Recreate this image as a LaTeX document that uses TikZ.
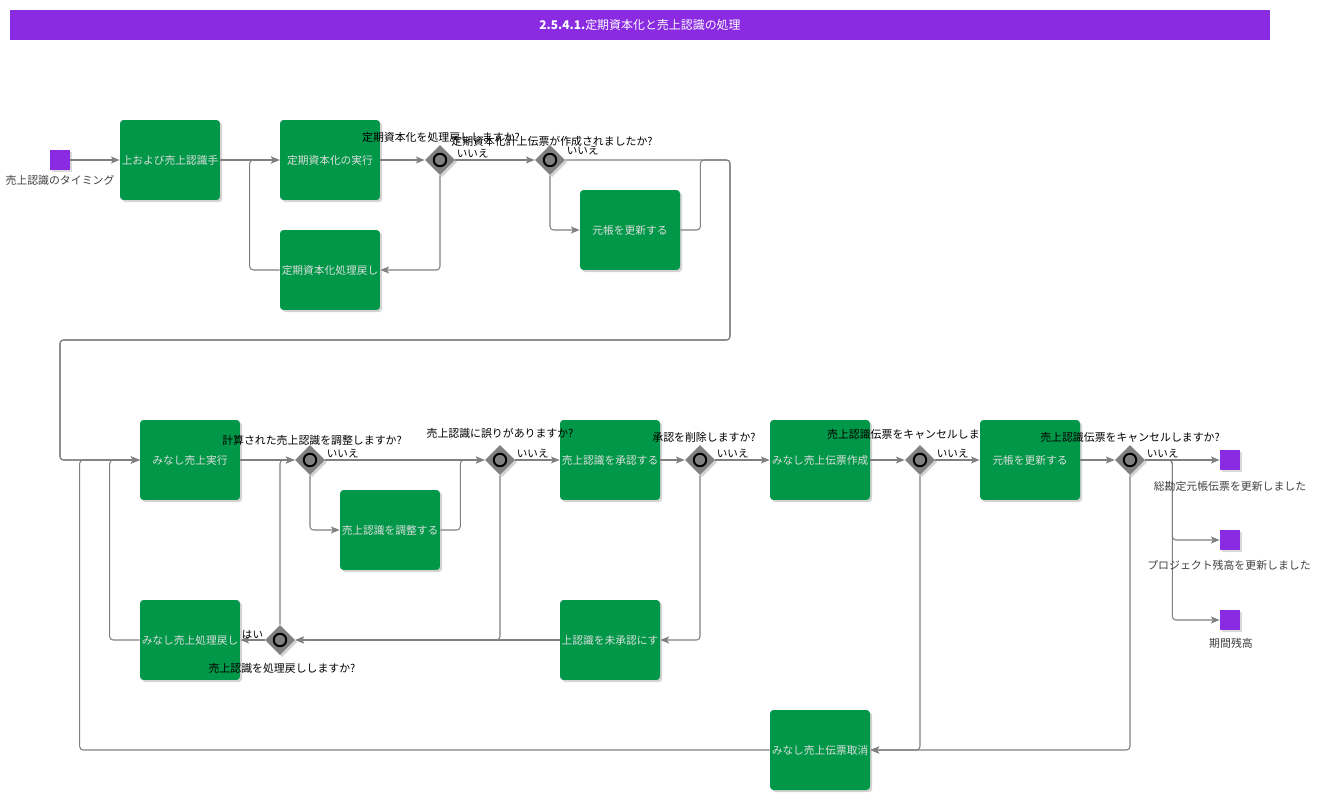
\documentclass[tikz,border=0pt]{standalone}
\usepackage{fontspec}
\setmainfont{Noto Sans CJK JP}
\usetikzlibrary{shapes.geometric, arrows.meta, shadows}
\definecolor{taskgreen}{RGB}{0,152,72}
\definecolor{evpurple}{RGB}{138,43,226}
\definecolor{flowgray}{RGB}{128,128,128}
\definecolor{tasktext}{RGB}{222,222,222}

\begin{document}
\begin{tikzpicture}[
        x=0.02cm, y=-0.02cm,
        task/.style={rectangle, rounded corners=2pt, fill=taskgreen, minimum width=2cm, minimum height=1.6cm, inner sep=0pt, text=tasktext, font=\fontsize{6.1}{7}\selectfont, drop shadow={shadow xshift=1.2pt, shadow yshift=-1.2pt, opacity=0.35}},
        gateway/.style={diamond, fill=flowgray, minimum width=0.6cm, minimum height=0.6cm, inner sep=0pt, drop shadow={shadow xshift=1.2pt, shadow yshift=-1.2pt, opacity=0.35},
            path picture={\draw[black, line width=1.1pt, fill=flowgray] (path picture bounding box.center) circle (0.125cm);}},
        event/.style={rectangle, fill=evpurple, minimum size=0.4cm, inner sep=0pt, drop shadow={shadow xshift=1pt, shadow yshift=-1pt, opacity=0.3}},
        titlebar/.style={rectangle, fill=evpurple, minimum width=25.2cm, minimum height=0.6cm, text=white, font=\fontsize{6.8}{8}\selectfont},
        flow/.style={draw=flowgray, line width=0.6pt, rounded corners=2pt, -{Stealth[length=5pt, width=4pt, inset=1.2pt]}},
        question/.style={inner sep=0pt, font=\fontsize{6.2}{7}\selectfont},
        evlabel/.style={inner sep=0pt, text=black!75, font=\fontsize{6.2}{7}\selectfont},
        answer/.style={inner sep=0.6pt, font=\fontsize{6}{7}\selectfont}
    ]
    \useasboundingbox (0,0) rectangle (1324,800);

    % タイトル
    \node[titlebar] at (640,25) (title) {\textbf{2.5.4.1.}定期資本化と売上認識の処理};

    % 上段: 定期資本化
    \node[event] at (60,160) (start) {};
    \node[task] at (170,160) (plan) {上および売上認識手};
    \node[task] at (330,160) (capexec) {定期資本化の実行};
    \node[task] at (330,270) (caprev) {定期資本化処理戻し};
    \node[gateway] at (440,160) (gcaprev) {};
    \node[gateway] at (550,160) (gcapdoc) {};
    \node[task] at (630,230) (ledger1) {元帳を更新する};
    \coordinate (loopR) at (730,340);
    \coordinate (loopL) at (60,340);

    % 下段: 売上認識
    \node[task] at (190,460) (deemexec) {みなし売上実行};
    \node[gateway] at (310,460) (gadjust) {};
    \node[task] at (390,530) (adjust) {売上認識を調整する};
    \node[gateway] at (500,460) (gerror) {};
    \node[task] at (610,460) (approve) {売上認識を承認する};
    \node[gateway] at (700,460) (gunapprove) {};
    \node[task] at (820,460) (deemdoc) {みなし売上伝票作成};
    \node[gateway] at (920,460) (gcancel1) {};
    \node[task] at (1030,460) (ledger2) {元帳を更新する};
    \node[gateway] at (1130,460) (gcancel2) {};
    \node[event] at (1230,460) (endgl) {};
    \node[event] at (1230,540) (endproj) {};
    \node[event] at (1230,620) (endperiod) {};
    \node[task] at (190,640) (deemrev) {みなし売上処理戻し};
    \node[gateway] at (280,640) (grev) {};
    \node[task] at (610,640) (unapprove) {上認識を未承認にす};
    \node[task] at (820,750) (deemcancel) {みなし売上伝票取消};

    % 上段の流れ
    \draw[flow] (start) -- (plan);
    \draw[flow] (plan) -- (capexec);
    \draw[flow] (capexec) -- (gcaprev);
    \draw[flow] (gcaprev.east) -- node[answer, pos=0, anchor=south west] {いいえ} (gcapdoc.west);
    \draw[flow] (gcaprev.south) |- (caprev.east);
    \draw[flow] (caprev.west) -- ++(-30,0) |- (capexec.west);
    \draw[flow] (gcapdoc.south) |- (ledger1.west);
    \draw[flow] (gcapdoc.east) -- node[answer, pos=0, anchor=south west, yshift=2pt] {いいえ} (loopR |- gcapdoc.east) -- (loopR) -- (loopL) |- (deemexec.west);
    \draw[flow] (ledger1.east) -- ++(20,0) |- (loopR |- gcapdoc.east) -- (loopR) -- (loopL) |- (deemexec.west);

    % 下段の流れ
    \draw[flow] (deemexec) -- (gadjust);
    \draw[flow] (gadjust.east) -- node[answer, pos=0, anchor=south west] {いいえ} (gerror.west);
    \draw[flow] (gadjust.south) |- (adjust.west);
    \draw[flow] (adjust.east) -- ++(20,0) |- (gerror.west);
    \draw[flow] (gerror.east) -- node[answer, pos=0, anchor=south west] {いいえ} (approve.west);
    \draw[flow] (gerror.south) |- (grev.east);
    \draw[flow] (approve) -- (gunapprove);
    \draw[flow] (gunapprove.east) -- node[answer, pos=0, anchor=south west] {いいえ} (deemdoc.west);
    \draw[flow] (gunapprove.south) |- (unapprove.east);
    \draw[flow] (unapprove.west) -- (grev.east);
    \draw[flow] (grev.west) -- node[answer, pos=0, anchor=south east] {はい} (deemrev.east);
    \draw[flow] (grev.north) |- (gadjust.west);
    \draw[flow] (deemrev.west) -- ++(-30,0) |- (deemexec.west);
    \draw[flow] (deemdoc) -- (gcancel1);
    \draw[flow] (gcancel1.east) -- node[answer, pos=0, anchor=south west] {いいえ} (ledger2.west);
    \draw[flow] (gcancel1.south) |- (deemcancel.east);
    \draw[flow] (ledger2) -- (gcancel2);
    \draw[flow] (gcancel2.east) -- node[answer, pos=0, anchor=south west] {いいえ} (endgl.west);
    \draw[flow] (gcancel2.east) -- ++(27,0) |- (endproj.west);
    \draw[flow] (gcancel2.east) -- ++(27,0) |- (endperiod.west);
    \draw[flow] (gcancel2.south) |- (deemcancel.east);
    \draw[flow] (deemcancel.west) -- ++(-690,0) |- (deemexec.west);

    % ラベル
    \node[evlabel] at (60,180) (startlbl) {売上認識のタイミング};
    \node[evlabel] at (1230,486) (endgllbl) {総勘定元帳伝票を更新しました};
    \node[evlabel] at (1229,565) (endprojlbl) {プロジェクト残高を更新しました};
    \node[evlabel] at (1231,643) (endperiodlbl) {期間残高};
    \node[question] at (441,137) (qcaprev) {定期資本化を処理戻ししますか?};
    \node[question] at (552,141) (qcapdoc) {定期資本化計上伝票が作成されましたか?};
    \node[question] at (312,440) (qadjust) {計算された売上認識を調整しますか?};
    \node[question] at (500,433) (qerror) {売上認識に誤りがありますか?};
    \node[question] at (704,437) (qunapprove) {承認を削除しますか?};
    \node[question, anchor=east] at (980,434) (qcancel1) {売上認識伝票をキャンセルしま};
    \node[question] at (1130,437) (qcancel2) {売上認識伝票をキャンセルしますか?};
    \node[question] at (282,668) (qrev) {売上認識を処理戻ししますか?};
\end{tikzpicture}
\end{document}
